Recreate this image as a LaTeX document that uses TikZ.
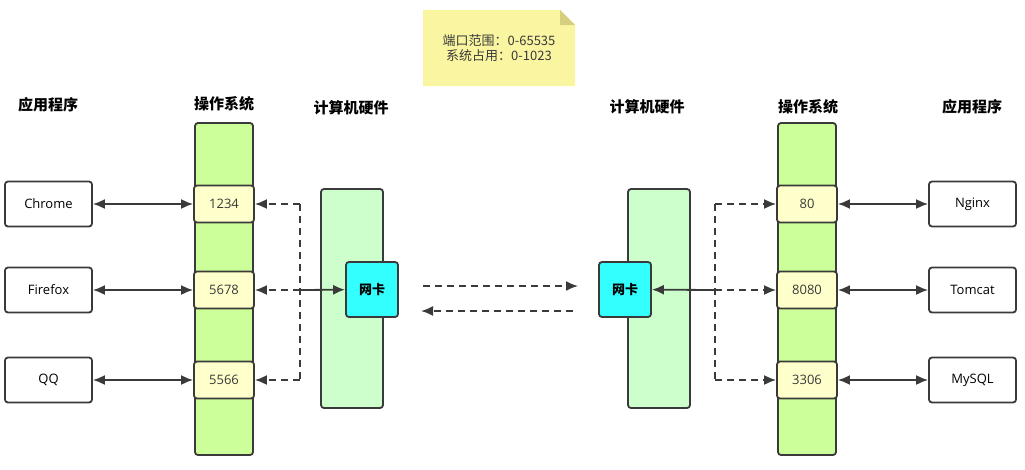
\documentclass[tikz,border=0pt]{standalone}
\usepackage{fontspec}
\setmainfont{Open Sans}
\newfontfamily\cjk{Noto Sans CJK SC}
\usetikzlibrary{arrows.meta}
\definecolor{linegray}{HTML}{3A3A3A}
\definecolor{osgreen}{HTML}{CCFF99}
\definecolor{portyellow}{HTML}{FFFFCC}
\definecolor{hwgreen}{HTML}{CCFFCC}
\definecolor{niccyan}{HTML}{33FFFF}
\definecolor{notefill}{HTML}{FAF5A0}
\definecolor{notefold}{HTML}{D6CF7E}
\tikzset{>={Latex[width=10pt,length=12pt]}}
\tikzset{
  box/.style={draw=linegray, line width=1.8pt, rounded corners=3pt, inner sep=0pt},
  osbar/.style={box, fill=osgreen, minimum width=58pt, minimum height=332pt},
  hwbar/.style={box, fill=hwgreen, minimum width=62pt, minimum height=219pt},
  portbox/.style={box, fill=portyellow, minimum width=60pt, minimum height=37pt, font=\fontsize{13}{15}\selectfont, text=linegray},
  appbox/.style={box, fill=white, minimum width=87pt, minimum height=45pt, font=\fontsize{13}{15}\selectfont, text=black},
  nicbox/.style={box, fill=niccyan, minimum width=52pt, minimum height=55pt, font=\cjk\bfseries\fontsize{13}{15}\selectfont},
  header/.style={font=\cjk\bfseries\fontsize{15}{17}\selectfont, text=black},
  solidline/.style={draw=linegray, line width=1.8pt},
  dline/.style={draw=linegray, line width=1.8pt, dash pattern=on 7pt off 5pt}
}
\begin{document}
\begin{tikzpicture}[x=1pt,y=-1pt]
\useasboundingbox (0,0) rectangle (1025,469);
% note
\fill[notefill] (423,10) -- (560,10) -- (575,25) -- (575,86) -- (423,86) -- cycle;
\fill[notefold] (560,10) -- (575,25) -- (560,25) -- cycle;
\node[font=\cjk\fontsize{13}{15.5}\selectfont, text=linegray, align=center] (note) at (499,48)
  {端口范围：0-65535\\系统占用：0-1023};
% headers
\node[header] (hAppL) at (48,105) {应用程序};
\node[header] (hOsL) at (224,104) {操作系统};
\node[header] (hHwL) at (351,108) {计算机硬件};
\node[header] (hHwR) at (647,107) {计算机硬件};
\node[header] (hOsR) at (808,107) {操作系统};
\node[header] (hAppR) at (972,107) {应用程序};
% columns
\node[osbar] (osL) at (224,289) {};
\node[osbar] (osR) at (807,289) {};
\node[hwbar] (hwL) at (352,298.5) {};
\node[hwbar] (hwR) at (659,298.5) {};
\node[nicbox] (nicL) at (372,289.5) {网卡};
\node[nicbox] (nicR) at (625,289.5) {网卡};
% ports
\node[portbox] (p1234) at (224,204) {1234};
\node[portbox] (p5678) at (224,290) {5678};
\node[portbox] (p5566) at (224,380) {5566};
\node[portbox] (p80) at (807,204) {80};
\node[portbox] (p8080) at (807,290) {8080};
\node[portbox] (p3306) at (807,380) {3306};
% applications
\node[appbox] (chrome) at (48.5,204) {Chrome};
\node[appbox] (firefox) at (48.5,290) {Firefox};
\node[appbox] (qq) at (48.5,380) {QQ};
\node[appbox] (nginx) at (972.5,204) {Nginx};
\node[appbox] (tomcat) at (972.5,290) {Tomcat};
\node[appbox] (mysql) at (972.5,380) {MySQL};
% app <-> port
\draw[solidline,<->] (chrome) -- (p1234);
\draw[solidline,<->] (firefox) -- (p5678);
\draw[solidline,<->] (qq) -- (p5566);
\draw[solidline,<->] (nginx) -- (p80);
\draw[solidline,<->] (tomcat) -- (p8080);
\draw[solidline,<->] (mysql) -- (p3306);
% left dispatch
\coordinate (jL1) at (300,204);
\coordinate (jL2) at (300,290);
\coordinate (jL3) at (300,380);
\draw[dline] (jL1) -- (jL3);
\draw[dline,->] (jL1) -- (p1234);
\draw[dline,->] (jL2) -- (p5678);
\draw[dline,->] (jL3) -- (p5566);
\draw[solidline,->] (jL2) -- (nicL);
% right dispatch
\coordinate (jR1) at (715,204);
\coordinate (jR2) at (715,290);
\coordinate (jR3) at (715,380);
\draw[dline] (jR1) -- (jR3);
\draw[dline,->] (jR1) -- (p80);
\draw[dline,->] (jR2) -- (p8080);
\draw[dline,->] (jR3) -- (p3306);
\draw[solidline,->] (jR2) -- (nicR);
% network
\coordinate (netA) at (423,286);
\coordinate (netB) at (578,286);
\coordinate (netC) at (573,311);
\coordinate (netD) at (421,311);
\draw[dline,->] (netA) -- (netB);
\draw[dline,->] (netC) -- (netD);
\end{tikzpicture}
\end{document}
